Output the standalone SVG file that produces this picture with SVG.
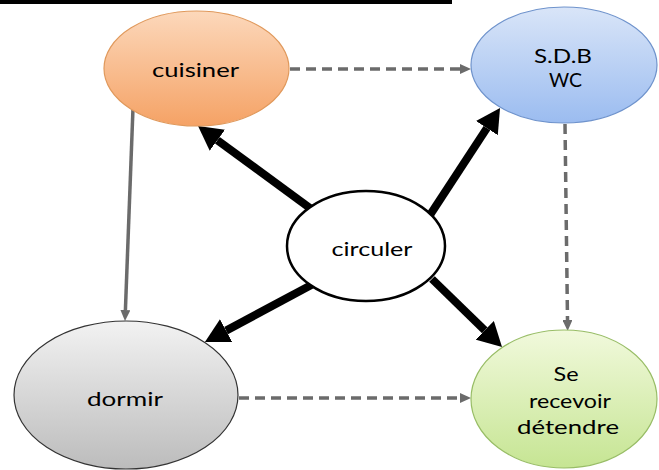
<svg xmlns="http://www.w3.org/2000/svg" width="659" height="470" viewBox="0 0 659 470">
<defs>
<linearGradient id="gOrange" x1="0" y1="0" x2="0" y2="1"><stop offset="0" stop-color="#fcd8bb"/><stop offset="1" stop-color="#f5a265"/></linearGradient>
<linearGradient id="gBlue" x1="0" y1="0" x2="0" y2="1"><stop offset="0" stop-color="#d9e5f8"/><stop offset="1" stop-color="#9bbcf0"/></linearGradient>
<linearGradient id="gGray" x1="0" y1="0" x2="0" y2="1"><stop offset="0" stop-color="#f2f2f2"/><stop offset="1" stop-color="#bcbcbc"/></linearGradient>
<linearGradient id="gGreen" x1="0" y1="0" x2="0" y2="1"><stop offset="0" stop-color="#f1f9dc"/><stop offset="1" stop-color="#c6e593"/></linearGradient>
<marker id="aGray" markerUnits="userSpaceOnUse" markerWidth="11" markerHeight="10" refX="0" refY="5" orient="auto" viewBox="0 0 11 10"><path d="M0,0 L11,5 L0,10 z" fill="#6b6b6b"/></marker>
<marker id="aBlack" markerUnits="userSpaceOnUse" markerWidth="24" markerHeight="26" refX="0" refY="13" orient="auto" viewBox="0 0 24 26"><path d="M0,0 L24,13 L0,26 z" fill="#000"/></marker>
</defs>
<style>
.gray{stroke:#6b6b6b;stroke-width:3.5;fill:none;marker-end:url(#aGray)}
.dash{stroke-dasharray:10 6}
.thick{stroke:#000;stroke-width:8;fill:none;marker-end:url(#aBlack)}
.lbl{font-family:Lato,"Open Sans","Liberation Sans",sans-serif;font-size:20px;fill:#000;text-anchor:middle}
</style>
<rect x="0" y="0" width="452" height="4" fill="#000"/>
<g id="connectors">
<line class="gray dash" x1="290" y1="69" x2="460" y2="69"/>
<line class="gray dash" x1="565" y1="124" x2="567.5" y2="320"/>
<line class="gray dash" x1="239" y1="398" x2="460" y2="398"/>
<line class="gray" x1="133" y1="108" x2="125.4" y2="310"/>
<line class="thick" x1="318" y1="214" x2="217.4" y2="140.2"/>
<line class="thick" x1="430" y1="215" x2="486.9" y2="128.1"/>
<line class="thick" x1="315" y1="283" x2="226.1" y2="330.6"/>
<line class="thick" x1="432" y1="279" x2="484.8" y2="330.3"/>
</g>
<g id="cuisiner">
<ellipse cx="196.5" cy="68.5" rx="92.5" ry="57.5" fill="url(#gOrange)" stroke="#e0995c" stroke-width="1.2"/>
<text class="lbl" x="195.5" y="77" textLength="87" lengthAdjust="spacingAndGlyphs">cuisiner</text>
</g>
<g id="sdb">
<ellipse cx="564" cy="65" rx="93" ry="58" fill="url(#gBlue)" stroke="#6f93cc" stroke-width="1.2"/>
<text class="lbl" x="563" y="63" textLength="58" lengthAdjust="spacingAndGlyphs">S.D.B</text>
<text class="lbl" x="565.5" y="87" textLength="33" lengthAdjust="spacingAndGlyphs">WC</text>
</g>
<g id="circuler">
<ellipse cx="366" cy="246" rx="79" ry="55" fill="#fff" stroke="#000" stroke-width="2.5"/>
<text class="lbl" x="372" y="256" textLength="81" lengthAdjust="spacingAndGlyphs">circuler</text>
</g>
<g id="dormir">
<ellipse cx="126" cy="395" rx="112" ry="74" fill="url(#gGray)" stroke="#333" stroke-width="1.2"/>
<text class="lbl" x="125" y="406" textLength="76" lengthAdjust="spacingAndGlyphs">dormir</text>
</g>
<g id="recevoir">
<ellipse cx="564" cy="399" rx="93" ry="69" fill="url(#gGreen)" stroke="#98bd66" stroke-width="1.2"/>
<text class="lbl" x="566" y="381" textLength="25" lengthAdjust="spacingAndGlyphs">Se</text>
<text class="lbl" x="570" y="408" textLength="82" lengthAdjust="spacingAndGlyphs">recevoir</text>
<text class="lbl" x="568" y="434" textLength="102" lengthAdjust="spacingAndGlyphs">détendre</text>
</g>
</svg>
